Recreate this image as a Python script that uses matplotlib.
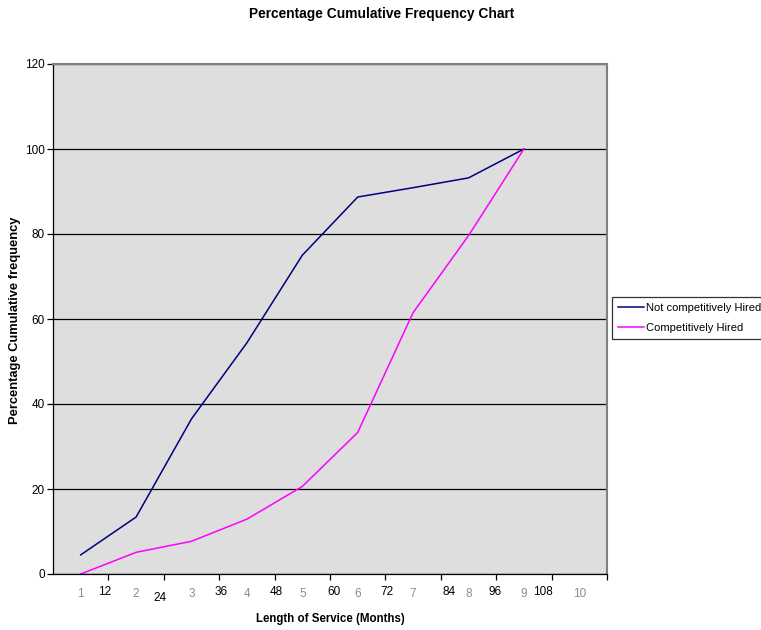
import matplotlib
matplotlib.use("Agg")
import matplotlib.pyplot as plt

plt.rcParams['font.family'] = ['Liberation Sans', 'DejaVu Sans']

# Data
categories = [1, 2, 3, 4, 5, 6, 7, 8, 9]
not_competitive = [4.5, 13.4, 36.5, 54.4, 75.0, 88.7, 90.9, 93.2, 100.0]
competitive = [0.0, 5.1, 7.7, 12.9, 20.6, 33.3, 61.5, 79.6, 100.0]
gray_labels = ['1', '2', '3', '4', '5', '6', '7', '8', '9', '10']
month_labels = ['12', '24', '36', '48', '60', '72', '84', '96', '108']

# label placement tweaks (relative to category boundary)
month_offsets = [-0.06, -0.07, 0.03, 0.03, 0.07, 0.03, 0.15, -0.02, -0.16]
month_drop = [0, 6, 0, 0, 0, 0, 0, 0, 0]

fig = plt.figure(figsize=(7.61, 6.30), dpi=100)
ax = fig.add_axes([53/761, 56/630, 554/761, 510/630])
ax.set_facecolor('#DEDEDE')

ax.plot(categories, not_competitive, color='#000080', lw=1.1, label='Not competitively Hired')
ax.plot(categories, competitive, color='#FF00FF', lw=1.1, label='Competitively Hired')

ax.set_xlim(0.5, 10.5)
ax.set_ylim(0, 120)
ax.set_yticks(range(0, 121, 20))
ax.yaxis.grid(True, color='black', lw=0.9)
ax.set_axisbelow(True)

ax.set_xticks([k + 0.5 for k in range(1, 11)])
ax.set_xticklabels([])
ax.tick_params(axis='x', direction='out', length=4.5, width=0.9, color='black')
ax.tick_params(axis='y', direction='out', length=4.5, width=0.9, pad=1.5,
               labelsize=8.5)

for side in ['top', 'right']:
    ax.spines[side].set_color('#808080')
    ax.spines[side].set_linewidth(1.5)
for side in ['left', 'bottom']:
    ax.spines[side].set_color('black')
    ax.spines[side].set_linewidth(0.9)

trans = ax.get_xaxis_transform()
for i, lab in enumerate(gray_labels):
    ax.annotate(lab, xy=(i + 1, 0), xycoords=trans, xytext=(0, -14.2),
                textcoords='offset points', ha='center', va='center',
                fontsize=8.5, color='#8C8C8C')
for i, lab in enumerate(month_labels):
    ax.annotate(lab, xy=(i + 1.5 + month_offsets[i], 0), xycoords=trans,
                xytext=(0, -13.0 - month_drop[i] * 0.72), textcoords='offset points',
                ha='center', va='center', fontsize=8.5, color='black')

fig.text(382/761, 1 - 14/630, 'Percentage Cumulative Frequency Chart',
         ha='center', va='center', fontsize=9.9, fontweight='bold')
fig.text(330/761, 1 - 619/630, 'Length of Service (Months)',
         ha='center', va='center', fontsize=8.3, fontweight='bold')
fig.text(15/761, 1 - 320/630, 'Percentage Cumulative frequency',
         ha='center', va='center', rotation=90, fontsize=9.3, fontweight='bold')

leg = fig.legend(loc='upper left', bbox_to_anchor=(612/761, 1 - 297/630),
                 fontsize=8, frameon=True, fancybox=False, handlelength=2.4,
                 handletextpad=0.15, borderpad=0.5, labelspacing=0.95,
                 borderaxespad=0)
leg.get_frame().set_edgecolor('black')
leg.get_frame().set_linewidth(0.9)

fig.savefig('out.png', dpi=100)
